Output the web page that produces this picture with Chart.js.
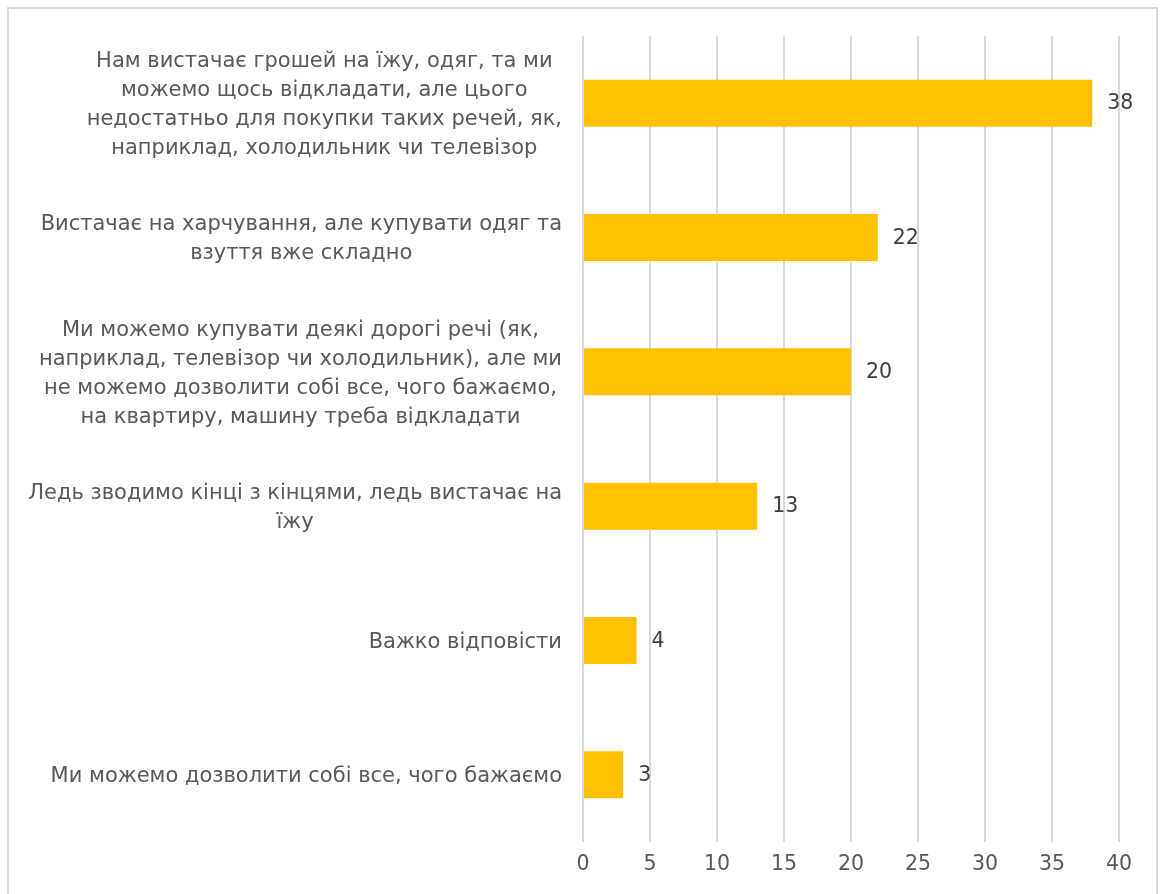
<!DOCTYPE html>
<html>
<head>
<meta charset="utf-8">
<script src="https://cdn.jsdelivr.net/npm/chart.js@4"></script>
<style>
  html, body { margin: 0; padding: 0; background: #fff; overflow: hidden; }
  #wrap { position: relative; width: 1161px; height: 894px; }
  #frame { position: absolute; left: 7px; top: 7px; width: 1151px; height: 900px; border: 2px solid #d9d9d9; box-sizing: border-box; }
  canvas { position: absolute; left: 0; top: 0; }
</style>
</head>
<body>
<div id="wrap">
  <div id="frame"></div>
  <canvas id="chart" width="1161" height="894"></canvas>
</div>
<script>
// categories, top to bottom, already split into lines as in the picture
const categories = [
  ['Нам вистачає грошей на їжу, одяг, та ми', 'можемо щось відкладати, але цього', 'недостатньо для покупки таких речей, як,', 'наприклад, холодильник чи телевізор'],
  ['Вистачає на харчування, але купувати одяг та', 'взуття вже складно'],
  ['Ми можемо купувати деякі дорогі речі (як,', 'наприклад, телевізор чи холодильник), але ми', 'не можемо дозволити собі все, чого бажаємо,', 'на квартиру, машину треба відкладати'],
  ['Ледь зводимо кінці з кінцями, ледь вистачає на', 'їжу'],
  ['Важко відповісти'],
  ['Ми можемо дозволити собі все, чого бажаємо']
];
const values = [38, 22, 20, 13, 4, 3];
const xMin = 0;
const xMax = 40;
const xStep = 5;

const FONT = '"DejaVu Sans", sans-serif';

// category labels: block right-aligned to the axis, lines centered inside the block
const categoryLabels = {
  id: 'categoryLabels',
  afterDraw(chart) {
    const { ctx, scales: { y } } = chart;
    const rightEdge = 562;
    const lineH = 29;
    ctx.save();
    ctx.font = '21px ' + FONT;
    ctx.fillStyle = '#595959';
    ctx.textAlign = 'center';
    ctx.textBaseline = 'middle';
    chart.data.labels.forEach((lines, i) => {
      const maxW = Math.max(...lines.map(l => ctx.measureText(l).width));
      const cx = rightEdge - maxW / 2;
      const cy = y.getPixelForValue(i) + 2;
      const top = cy - (lines.length - 1) * lineH / 2;
      lines.forEach((l, j) => ctx.fillText(l, cx, top + j * lineH));
    });
    ctx.restore();
  }
};

// value labels at the end of each bar
const valueLabels = {
  id: 'valueLabels',
  afterDatasetsDraw(chart) {
    const { ctx } = chart;
    const meta = chart.getDatasetMeta(0);
    ctx.save();
    ctx.font = '20.5px ' + FONT;
    ctx.fillStyle = '#404040';
    ctx.textAlign = 'left';
    ctx.textBaseline = 'middle';
    meta.data.forEach((bar, i) => {
      ctx.fillText(String(chart.data.datasets[0].data[i]), bar.x + 15, bar.y + 1);
    });
    ctx.restore();
  }
};

new Chart(document.getElementById('chart'), {
  type: 'bar',
  data: {
    labels: categories,
    datasets: [{
      data: values,
      backgroundColor: '#FFC000',
      borderWidth: 0,
      barPercentage: 0.35,
      categoryPercentage: 1
    }]
  },
  options: {
    indexAxis: 'y',
    responsive: false,
    animation: false,
    events: [],
    layout: { padding: { top: 36, right: 42, left: 0, bottom: 0 } },
    plugins: {
      legend: { display: false },
      tooltip: { enabled: false },
      title: { display: false }
    },
    scales: {
      x: {
        min: xMin,
        max: xMax,
        border: { display: false },
        grid: { color: '#d9d9d9', lineWidth: 2, drawTicks: false },
        ticks: {
          stepSize: xStep,
          padding: 10,
          color: '#595959',
          font: { family: FONT, size: 20.5 }
        },
        afterFit(scale) { scale.height = 52; }
      },
      y: {
        border: { display: false },
        grid: { display: false },
        ticks: { display: false },
        afterFit(scale) { scale.width = 583; }
      }
    }
  },
  plugins: [categoryLabels, valueLabels]
});
</script>
</body>
</html>
